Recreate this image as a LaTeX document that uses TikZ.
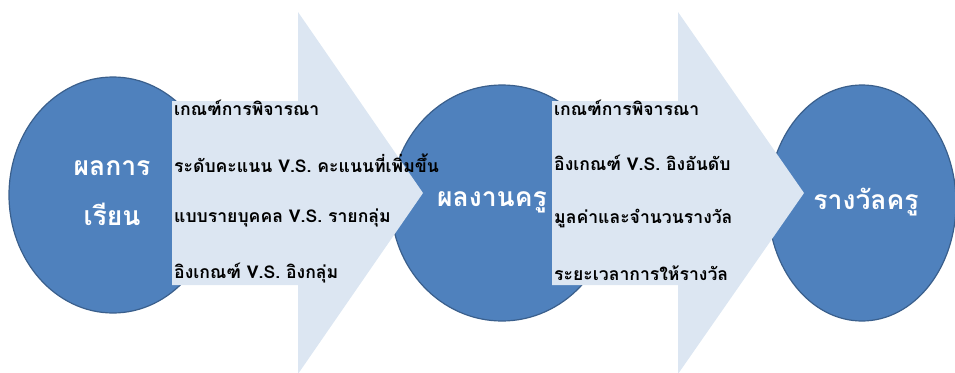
\documentclass[tikz,border=0pt]{standalone}
\usepackage{fontspec}
\newfontfamily\thaifont[Script=Thai]{Loma}
\definecolor{circfill}{HTML}{4F81BD}
\definecolor{circline}{HTML}{3A5F8C}
\definecolor{arrfill}{HTML}{DCE6F2}
\begin{document}
\begin{tikzpicture}[x=1pt,y=-1pt,
  blob/.style={fill=circfill, draw=circline, line width=1.2pt},
  item/.style={anchor=west, inner sep=0pt, font=\thaifont\bfseries\fontsize{17.6}{20}\selectfont, text=black},
  blobtext/.style={align=center, inner sep=0pt, text=white, font=\thaifont\bfseries\fontsize{26.5}{50}\selectfont}
]
\useasboundingbox (0,0) rectangle (955,372);
% circles
\path[blob] (113,195) ellipse [x radius=104, y radius=118];
\path[blob] (502,203) ellipse [x radius=111, y radius=118];
\path[blob] (862,203) ellipse [x radius=94, y radius=118];
\coordinate (c1) at (112,193);
\coordinate (c2) at (492,202);
\coordinate (c3) at (866,202);
% arrows
\fill[arrfill] (172,101) -- (298,101) -- (298,12) -- (423,193) -- (298,374) -- (298,285) -- (172,285) -- cycle;
\fill[arrfill] (552,101) -- (678,101) -- (678,12) -- (804,193) -- (678,374) -- (678,285) -- (552,285) -- cycle;
% circle labels
\node[blobtext] (t1) at (c1) {ผลการ\\เรียน};
\node[blobtext] (t2) at (c2) {ผลงานครู};
\node[blobtext] (t3) at (c3) {รางวัลครู};
% arrow 1 items
\node[item] (a1) at (174,108) {เกณฑ์การพิจารณา};
\node[item] (a2) at (174,163) {ระดับคะแนน V.S. คะแนนที่เพิ่มขึ้น};
\node[item] (a3) at (174,218) {แบบรายบุคคล V.S. รายกลุ่ม};
\node[item] (a4) at (174,273) {อิงเกณฑ์ V.S. อิงกลุ่ม};
% arrow 2 items
\node[item] (b1) at (554,108) {เกณฑ์การพิจารณา};
\node[item] (b2) at (554,163) {อิงเกณฑ์ V.S. อิงอันดับ};
\node[item] (b3) at (554,218) {มูลค่าและจำนวนรางวัล};
\node[item] (b4) at (554,273) {ระยะเวลาการให้รางวัล};
\end{tikzpicture}
\end{document}
